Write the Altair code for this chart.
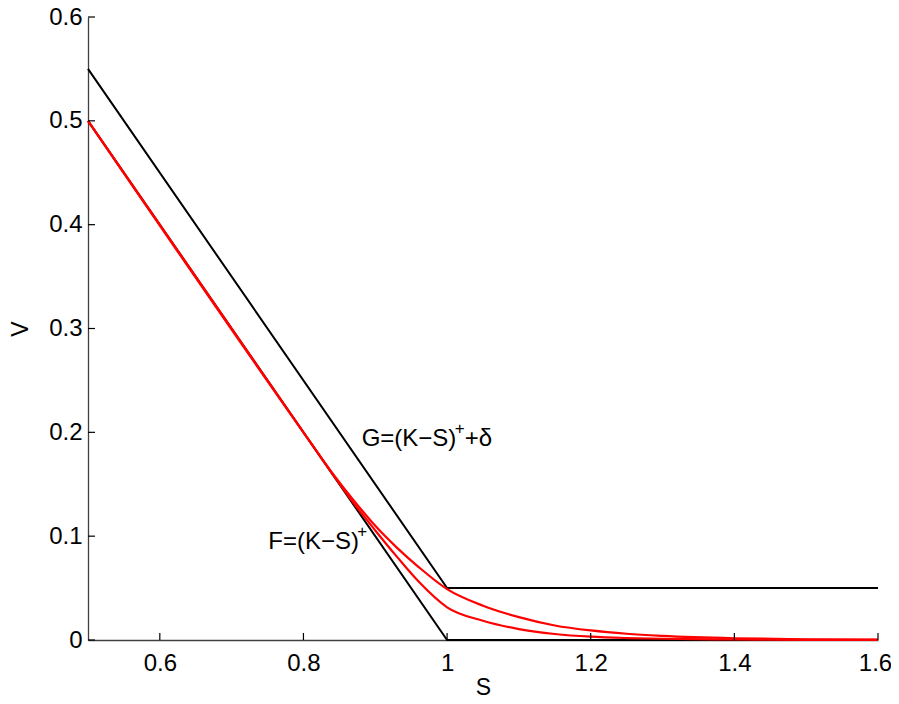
import altair as alt
import pandas as pd

# Data
S_F = [0.5, 1.0, 1.6]
V_F = [0.5, 0.0, 0.0]
S_G = [0.5, 1.0, 1.6]
V_G = [0.55, 0.05, 0.05]
S_R = [0.5, 0.8, 0.84, 0.87, 0.90, 0.93, 0.96, 1.00, 1.05, 1.10, 1.15, 1.20, 1.25, 1.30, 1.40, 1.50, 1.60]
V_R_upper = [0.5, 0.2, 0.161, 0.1345, 0.110, 0.089, 0.0705, 0.049, 0.033, 0.022, 0.0140, 0.0092, 0.0060, 0.0040, 0.0017, 0.0007, 0.0003]
V_R_lower = [0.5, 0.2, 0.1603, 0.1318, 0.1055, 0.0803, 0.0565, 0.0315, 0.0185, 0.0105, 0.0058, 0.0032, 0.0019, 0.0012, 0.0005, 0.0002, 0.0001]
X_TICKS = [0.6, 0.8, 1.0, 1.2, 1.4, 1.6]
Y_TICKS = [0.0, 0.1, 0.2, 0.3, 0.4, 0.5, 0.6]

FONT = "Liberation Sans"
W, H = 790, 623

df_f = pd.DataFrame({"S": S_F, "V": V_F})
df_g = pd.DataFrame({"S": S_G, "V": V_G})
df_ru = pd.DataFrame({"S": S_R, "V": V_R_upper})
df_rl = pd.DataFrame({"S": S_R, "V": V_R_lower})
df_xt = pd.DataFrame({"S": X_TICKS})
df_yt = pd.DataFrame({"V": Y_TICKS})

xscale = alt.Scale(domain=[0.5, 1.6], nice=False, zero=False)
yscale = alt.Scale(domain=[0, 0.6], nice=False, zero=False)

xaxis = alt.Axis(values=X_TICKS, format=".1~f", title="S", grid=False, ticks=False,
                 domainColor="#404040", domainWidth=1.3, labelFont=FONT, labelFontSize=24,
                 labelColor="#000", labelPadding=11, titleFont=FONT, titleFontSize=23,
                 titleFontWeight="normal", titleColor="#000", titlePadding=1,
                 labelFlush=False,
                 labelOffset={"condition": {"test": "datum.value > 1.55", "value": -3}, "value": 0})
yaxis = alt.Axis(values=Y_TICKS, format=".1~f", title="V", grid=False, ticks=False,
                 domainColor="#404040", domainWidth=1.3, labelFont=FONT, labelFontSize=24,
                 labelColor="#000", labelPadding=6, titleFont=FONT, titleFontSize=23,
                 titleFontWeight="normal", titleColor="#000", titlePadding=16,
                 labelFlush=False)

base_f = alt.Chart(df_f).mark_line(color="black", strokeWidth=2).encode(
    x=alt.X("S:Q", scale=xscale, axis=xaxis),
    y=alt.Y("V:Q", scale=yscale, axis=yaxis),
)
line_g = alt.Chart(df_g).mark_line(color="black", strokeWidth=2).encode(
    x=alt.X("S:Q", scale=xscale), y=alt.Y("V:Q", scale=yscale))
line_ru = alt.Chart(df_ru).mark_line(color="#ff0000", strokeWidth=2.2, interpolate="monotone").encode(
    x=alt.X("S:Q", scale=xscale), y=alt.Y("V:Q", scale=yscale))
line_rl = alt.Chart(df_rl).mark_line(color="#ff0000", strokeWidth=2.2, interpolate="monotone").encode(
    x=alt.X("S:Q", scale=xscale), y=alt.Y("V:Q", scale=yscale))

xticks = alt.Chart(df_xt).mark_rule(color="#000", strokeWidth=1.2).encode(
    x=alt.X("S:Q", scale=xscale), y=alt.value(H), y2=alt.value(H - 7))
yticks = alt.Chart(df_yt).mark_rule(color="#000", strokeWidth=1.2).encode(
    y=alt.Y("V:Q", scale=yscale), x=alt.value(0), x2=alt.value(7))

# annotations
LBL_G = pd.DataFrame({"S": [0.881], "V": [0.1873]})
LBL_F = pd.DataFrame({"S": [0.751], "V": [0.0881]})

def txt(df, text, size, dx=0, dy=0):
    return alt.Chart(df).mark_text(text=text, font=FONT, fontSize=size, align="left",
                                   baseline="alphabetic", dx=dx, dy=dy, color="#000").encode(
        x=alt.X("S:Q", scale=xscale), y=alt.Y("V:Q", scale=yscale))

g1 = txt(LBL_G, "G=(K\u2212S)", 24)
g2 = txt(LBL_G, "+", 17, dx=93, dy=-12)
g3 = txt(LBL_G, "+\u03b4", 24, dx=103)
f1 = txt(LBL_F, "F=(K\u2212S)", 24)
f2 = txt(LBL_F, "+", 17, dx=89, dy=-12)

chart = alt.layer(base_f, line_g, line_ru, line_rl, xticks, yticks, g1, g2, g3, f1, f2).properties(
    width=W, height=H,
    autosize=alt.AutoSizeParams(type="none"),
    padding={"left": 80, "top": 9, "right": 13, "bottom": 56},
    background="white",
).configure_view(stroke=None)

chart.save("out.html", embed_options={"renderer": "svg", "actions": False})
